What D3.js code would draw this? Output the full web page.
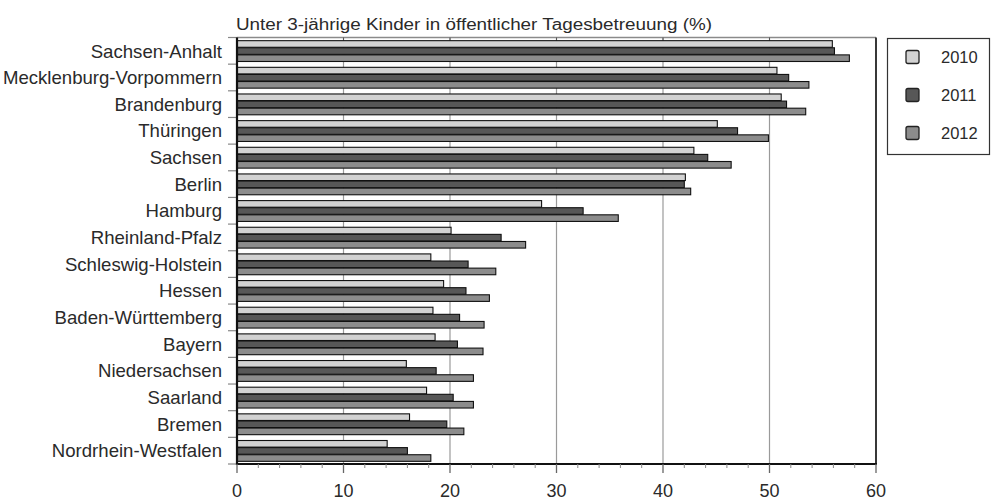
<!DOCTYPE html>
<html>
<head>
<meta charset="utf-8">
<script src="https://cdn.jsdelivr.net/npm/d3@7"></script>
<style>
  html, body { margin: 0; padding: 0; background: #fff; }
  svg { display: block; font-family: "Liberation Sans", Arial, sans-serif; }
</style>
</head>
<body>
<svg id="chart" width="991" height="500"></svg>
<script>
const title = "Unter 3-jährige Kinder in öffentlicher Tagesbetreuung (%)";
const categories = ["Sachsen-Anhalt","Mecklenburg-Vorpommern","Brandenburg","Thüringen","Sachsen","Berlin","Hamburg","Rheinland-Pfalz","Schleswig-Holstein","Hessen","Baden-Württemberg","Bayern","Niedersachsen","Saarland","Bremen","Nordrhein-Westfalen"];
const years = ["2010","2011","2012"];
const values2010 = [55.9, 50.7, 51.1, 45.1, 42.9, 42.1, 28.6, 20.1, 18.2, 19.4, 18.4, 18.6, 15.9, 17.8, 16.2, 14.1];
const values2011 = [56.1, 51.8, 51.6, 47.0, 44.2, 42.0, 32.5, 24.8, 21.7, 21.5, 20.9, 20.7, 18.7, 20.3, 19.7, 16.0];
const values2012 = [57.5, 53.7, 53.4, 49.9, 46.4, 42.6, 35.8, 27.1, 24.3, 23.7, 23.2, 23.1, 22.2, 22.2, 21.3, 18.2];
const xTicks = [0, 10, 20, 30, 40, 50, 60];
const xMinorTicks = [2,4,6,8,12,14,16,18,22,24,26,28,32,34,36,38,42,44,46,48,52,54,56,58];
const gridTicks = [10, 20, 30, 40, 50];

(function () {
const seriesValues = [values2010, values2011, values2012];
const colors = ["#d2d2d2", "#575757", "#8c8c8c"];

const svg = d3.select("#chart");
const pLeft = 237, pRight = 876, pTop = 37.5, pBottom = 464;

const x = d3.scaleLinear().domain([0, 60]).range([pLeft, pRight]);
const y = d3.scaleBand().domain(categories).range([pTop, pBottom]).paddingInner(0.2).paddingOuter(0.1);
const yInner = d3.scaleBand().domain(years).range([0, y.bandwidth()]).padding(0);
const step = y.step();

// gridlines
svg.append("g").selectAll("line").data(gridTicks).join("line")
  .attr("x1", d => x(d)).attr("x2", d => x(d))
  .attr("y1", pTop).attr("y2", pBottom)
  .attr("stroke", "#9a9a9a").attr("stroke-width", 1.2);

// top frame line
svg.append("line").attr("x1", pLeft).attr("x2", pRight).attr("y1", pTop).attr("y2", pTop)
  .attr("stroke", "#8a8a8a").attr("stroke-width", 1.5);
svg.append("g").selectAll("line").data(gridTicks).join("line")
  .attr("x1", d => x(d)).attr("x2", d => x(d))
  .attr("y1", pTop).attr("y2", pTop + 3)
  .attr("stroke", "#555").attr("stroke-width", 1);

// bars
const groups = svg.append("g").selectAll("g").data(categories).join("g")
  .attr("transform", d => `translate(0,${y(d)})`);
groups.selectAll("rect").data((d, i) => years.map((yr, k) => ({yr, k, v: seriesValues[k][i]}))).join("rect")
  .attr("x", x(0))
  .attr("y", d => yInner(d.yr) + 0.5)
  .attr("width", d => x(d.v) - x(0))
  .attr("height", yInner.bandwidth() - 0.5)
  .attr("fill", d => colors[d.k])
  .attr("stroke", "#111")
  .attr("stroke-width", 1.1);

// right frame
svg.append("line").attr("x1", pRight).attr("x2", pRight).attr("y1", pTop).attr("y2", pBottom)
  .attr("stroke", "#222").attr("stroke-width", 1.8);

// y axis ticks (category boundaries)
const boundaries = categories.map((c, i) => pTop + i * step).concat([pBottom]);
svg.append("g").selectAll("line").data(boundaries).join("line")
  .attr("x1", pLeft - 9).attr("x2", pLeft)
  .attr("y1", d => d).attr("y2", d => d)
  .attr("stroke", "#888").attr("stroke-width", 1.2);

// y axis line
svg.append("line").attr("x1", pLeft).attr("x2", pLeft).attr("y1", pTop).attr("y2", pBottom + 1)
  .attr("stroke", "#111").attr("stroke-width", 2.2);

// y labels
svg.append("g").selectAll("text").data(categories).join("text")
  .attr("x", 222)
  .attr("y", d => y(d) + y.bandwidth() / 2)
  .attr("dy", "0.36em")
  .attr("text-anchor", "end")
  .attr("font-size", 18.6)
  .attr("fill", "#2a2a2a")
  .text(d => d);

// x axis line
svg.append("line").attr("x1", pLeft - 1).attr("x2", pRight + 1).attr("y1", pBottom).attr("y2", pBottom)
  .attr("stroke", "#111").attr("stroke-width", 2);

svg.append("g").selectAll("line").data(xTicks).join("line")
  .attr("x1", d => x(d)).attr("x2", d => x(d))
  .attr("y1", pBottom).attr("y2", pBottom + 9)
  .attr("stroke", "#666").attr("stroke-width", 1.3);
svg.append("g").selectAll("line").data(xMinorTicks).join("line")
  .attr("x1", d => x(d)).attr("x2", d => x(d))
  .attr("y1", pBottom).attr("y2", pBottom + 4)
  .attr("stroke", "#888").attr("stroke-width", 1);

svg.append("g").selectAll("text").data(xTicks).join("text")
  .attr("x", d => x(d))
  .attr("y", 497)
  .attr("text-anchor", "middle")
  .attr("font-size", 18)
  .attr("fill", "#2a2a2a")
  .text(d => d);

// title
svg.append("text")
  .attr("x", 236).attr("y", 30)
  .attr("font-size", 16)
  .attr("fill", "#2a2a2a")
  .attr("textLength", 476)
  .attr("lengthAdjust", "spacingAndGlyphs")
  .text(title);

// legend
const lg = svg.append("g");
lg.append("rect").attr("x", 887.5).attr("y", 38.5).attr("width", 102).attr("height", 116)
  .attr("fill", "#fff").attr("stroke", "#333").attr("stroke-width", 1.2);
const legendY = d3.scalePoint().domain(years).range([57, 133]);
years.forEach((yr, k) => {
  lg.append("rect").attr("x", 906).attr("y", legendY(yr) - 6.5).attr("width", 13).attr("height", 13)
    .attr("rx", 2).attr("fill", colors[k]).attr("stroke", "#222").attr("stroke-width", 1.3);
  lg.append("text").attr("x", 941).attr("y", legendY(yr)).attr("dy", "0.36em")
    .attr("font-size", 16.5).attr("fill", "#2a2a2a").text(yr);
});
})();
</script>
</body>
</html>
